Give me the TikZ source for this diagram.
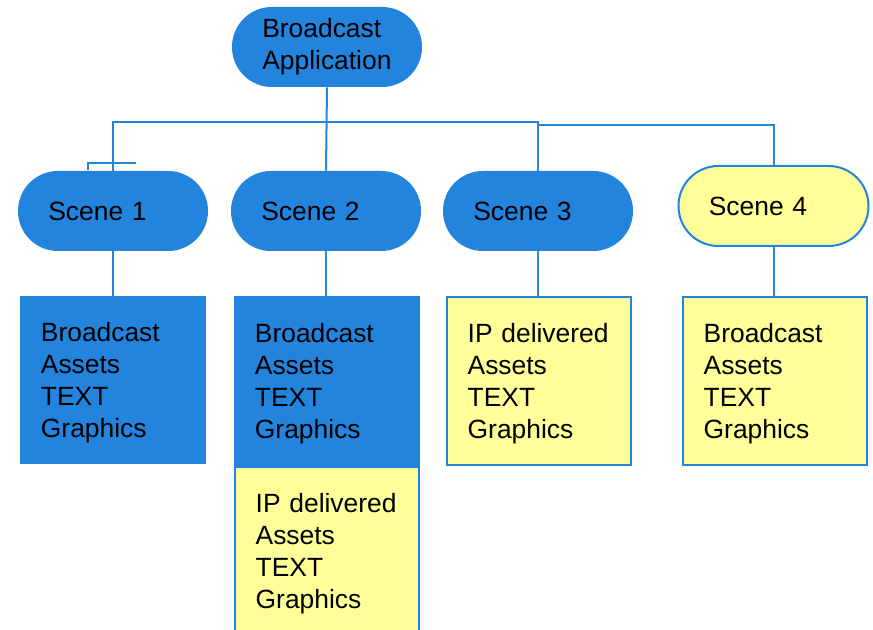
\documentclass[tikz,border=0pt]{standalone}
\usepackage{fontspec}
\setmainfont{Liberation Sans}
\usepackage{tikz}

\definecolor{sceneblue}{RGB}{35,132,222}
\definecolor{ipyellow}{RGB}{255,255,153}

\tikzset{
  pill/.style={rectangle, rounded corners=29.9pt, minimum height=60pt,
    text width=97pt, inner xsep=22.75pt, align=left,
    font=\fontsize{19.8pt}{24pt}\selectfont},
  bluepill/.style={pill, fill=sceneblue},
  yellowpill/.style={pill, fill=ipyellow, draw=sceneblue, line width=1.5pt},
  assets/.style={rectangle, anchor=north west, minimum height=126pt,
    text width=108.5pt, inner xsep=15.5pt, align=left,
    font=\fontsize{19.8pt}{24pt}\selectfont},
  blueassets/.style={assets, fill=sceneblue},
  yellowassets/.style={assets, text width=107pt, fill=ipyellow, draw=sceneblue, line width=1.5pt},
  link/.style={draw=sceneblue, line width=1.5pt}
}

\begin{document}
\begin{tikzpicture}[x=0.75pt, y=-0.75pt]
\useasboundingbox (0,0) rectangle (873,630);
\clip (0,0) rectangle (873,630);

% connectors
\coordinate (busL) at (113,122);
\coordinate (busM) at (538,122);
\coordinate (busR1) at (538,125);
\coordinate (busR2) at (773.5,125);
\coordinate (stubA) at (88,170);
\coordinate (stubB) at (88,163);
\coordinate (stubC) at (136,163);

% top node and scenes
\node[bluepill] (root) at (327,47) {Broadcast\\Application};
\node[bluepill] (scene1) at (113,211) {Scene 1};
\node[bluepill] (scene2) at (326,211) {Scene 2};
\node[bluepill] (scene3) at (538,211) {Scene 3};
\node[yellowpill] (scene4) at (773.5,206) {Scene 4};

% asset boxes
\node[blueassets] (box1) at (20,296) {\rule{0pt}{18pt}Broadcast\\Assets\\TEXT\\Graphics};
\node[blueassets, minimum height=127.5pt] (box2) at (234,296) {\rule{0pt}{18pt}Broadcast\\Assets\\TEXT\\Graphics};
\node[yellowassets, minimum height=130pt] (box2ip) at (234,466) {IP delivered\\Assets\\TEXT\\Graphics\\[8pt]};
\node[yellowassets] (box3) at (446,296) {\rule{0pt}{18pt}IP delivered\\Assets\\TEXT\\Graphics};
\node[yellowassets] (box4) at (682,296) {\rule{0pt}{18pt}Broadcast\\Assets\\TEXT\\Graphics};

\draw[link] (root.south) -- (scene2.north);
\draw[link] (scene1.north) -- (busL) -- (busM) -- (scene3.north);
\draw[link] (busR1) -- (busR2) -- (scene4.north);
\draw[link] (stubA) -- (stubB) -- (stubC);

\draw[link] (scene1.south) -- (scene1.south |- box1.north);
\draw[link] (scene2.south) -- (scene2.south |- box2.north);
\draw[link] (scene3.south) -- (scene3.south |- box3.north);
\draw[link] (scene4.south) -- (scene4.south |- box4.north);

\end{tikzpicture}
\end{document}
